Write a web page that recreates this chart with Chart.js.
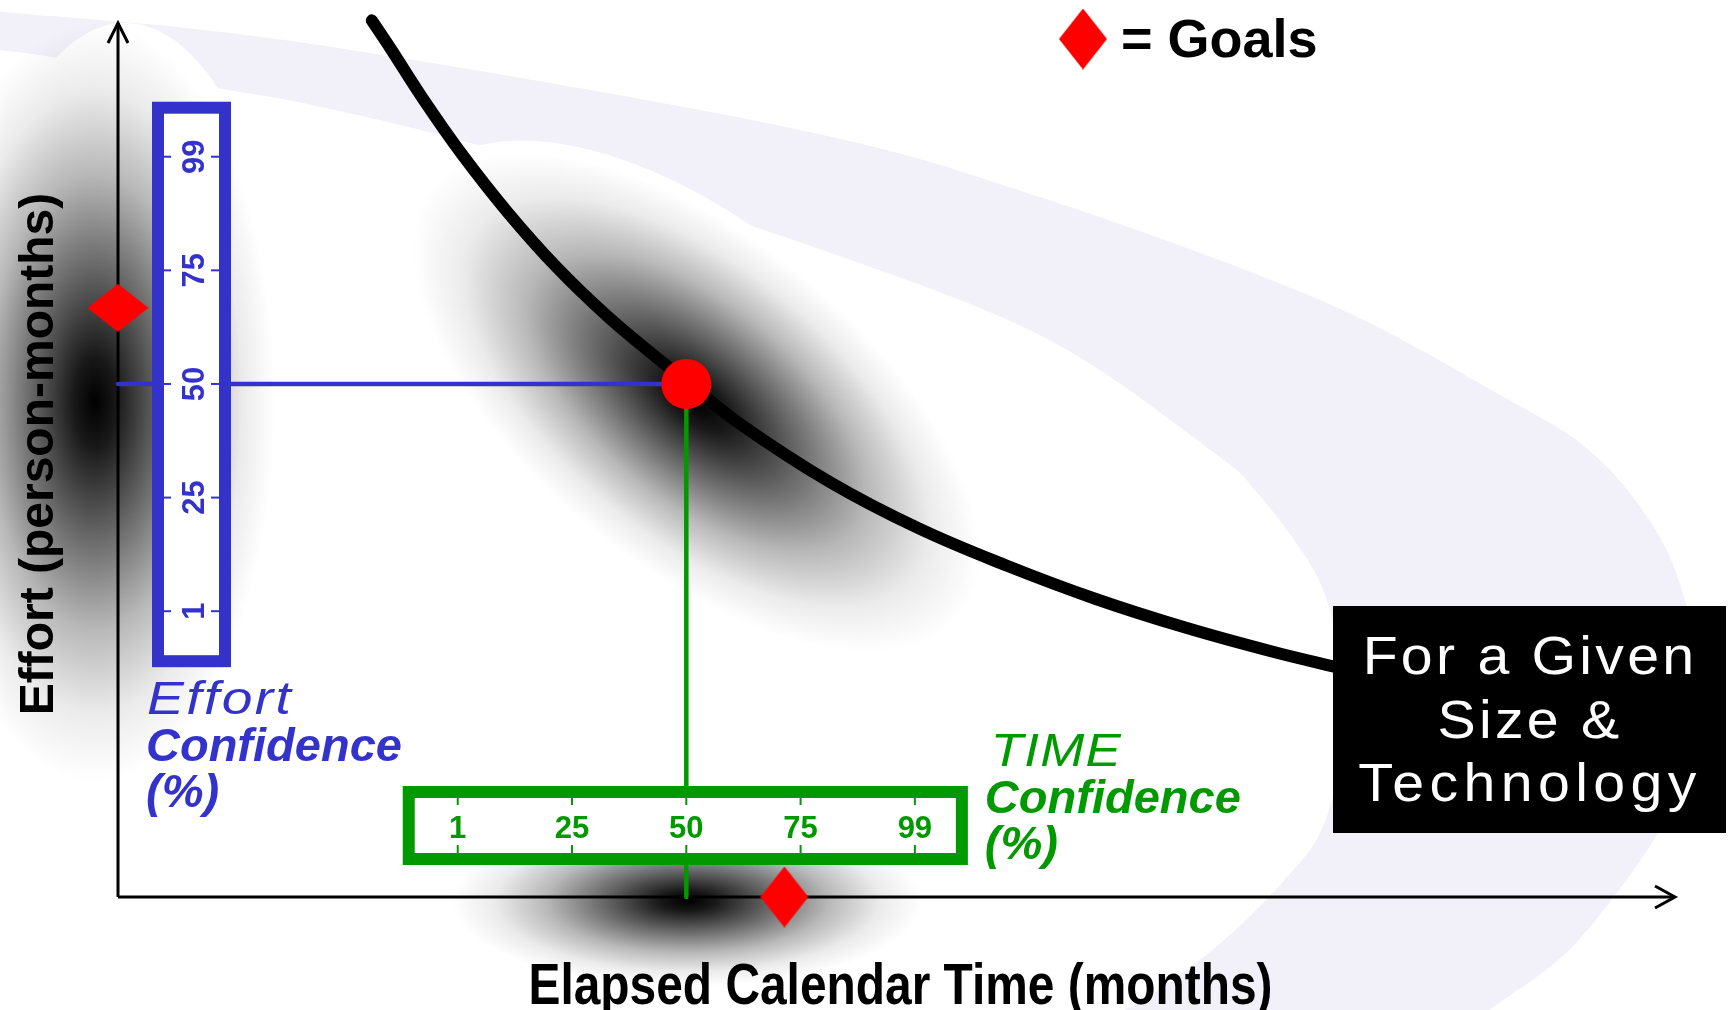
<!DOCTYPE html>
<html>
<head>
<meta charset="utf-8">
<title>Effort vs Elapsed Calendar Time</title>
<script src="https://cdn.jsdelivr.net/npm/chart.js@4.4.1/dist/chart.umd.min.js"></script>
<style>
  html, body { margin: 0; padding: 0; background: #fff; overflow: hidden; }
  #wrap { width: 1735px; height: 1010px; position: relative; }
</style>
</head>
<body>
<div id="wrap"><canvas id="tradeoff"></canvas></div>
<script>
// trade-off curve (axis units 0..100)
const curveTime   = [16.3, 17.5, 19.6, 22.0, 25.0, 28.2, 31.4, 34.6, 36.5, 39.9, 45.7, 51.4, 57.1, 62.8, 68.6, 74.3, 78.5];
const curveEffort = [100.3, 97.1, 91.3, 85.2, 78.4, 72.0, 66.5, 61.7, 59.0, 54.2, 47.5, 42.2, 37.9, 34.1, 30.8, 28.0, 26.2];

// the 50% estimate (red dot)
const estimateTime = [36.5];
const estimateEffort = [58.7];

// goals (red diamonds), one on each axis
const goalTime   = [0, 42.8];
const goalEffort = [67.4, 0];

// confidence scales
const effortConfLabels = ['1', '25', '50', '75', '99'];
const timeConfLabels   = ['1', '25', '50', '75', '99'];

const timeRange = [0, 100];
const effortRange = [0, 100];

const FONT = '"Liberation Sans", Arial, Helvetica, sans-serif';
const BLUE = '#3333CC';
const GREEN = '#009900';
const RED = '#FF0000';
const LAVENDER = '#F2F0F8';

// spacing of the confidence ticks, in axis units
const EFFORT_STEP = 13.0;
const TIME_STEP = 7.34;

// background swoosh, in axis units (outer edge, then inner edge back)
const swoosh = [
  [-9.5, 101.5], [-7.6, 101.3], [11.7, 97.8], [43.2, 88.0], [59.2, 80.1], [77.2, 68.3],
  [88.8, 57.4], [94.5, 51.1], [98.4, 43.0], [100.5, 34.8], [101.6, 23.7], [101.1, 14.5],
  [98.8, 7.0], [96.1, 0.1], [92.7, -6.9], [88.1, -12.9], [83.6, -18.7],
  [60.5, -18.7], [66.3, -11.3], [70.8, -5.3], [75.0, 2.1], [77.3, 7.7], [78.5, 15.7],
  [78.6, 23.7], [78.0, 31.7], [76.6, 38.0], [73.2, 46.2], [70.2, 51.1], [59.2, 64.3],
  [43.8, 74.9], [31.0, 82.0], [20.2, 87.4], [11.7, 90.9], [5.9, 92.7], [-3.9, 96.0],
  [-7.6, 96.9], [-9.5, 97.0]
];

function diamond(w, h, color) {
  const c = document.createElement('canvas');
  c.width = w; c.height = h;
  const g = c.getContext('2d');
  g.fillStyle = color;
  g.beginPath();
  g.moveTo(w / 2, 0); g.lineTo(w, h / 2); g.lineTo(w / 2, h); g.lineTo(0, h / 2);
  g.closePath();
  g.fill();
  return c;
}
const goalMark = diamond(48, 61, RED);

function smoothClosed(ctx, pts) {
  const n = pts.length;
  ctx.beginPath();
  ctx.moveTo(pts[0][0], pts[0][1]);
  for (let i = 0; i < n; i++) {
    const p0 = pts[(i - 1 + n) % n], p1 = pts[i], p2 = pts[(i + 1) % n], p3 = pts[(i + 2) % n];
    ctx.bezierCurveTo(
      p1[0] + (p2[0] - p0[0]) / 6, p1[1] + (p2[1] - p0[1]) / 6,
      p2[0] - (p3[0] - p1[0]) / 6, p2[1] - (p3[1] - p1[1]) / 6,
      p2[0], p2[1]);
  }
  ctx.closePath();
}

function ellipse(ctx, cx, cy, rx, ry, rotDeg, fill) {
  ctx.save();
  ctx.translate(cx, cy);
  ctx.rotate(rotDeg * Math.PI / 180);
  ctx.scale(1, ry / rx);
  if (fill === 'white') {
    ctx.fillStyle = '#fff';
  } else {
    const g = ctx.createRadialGradient(0, 0, 0, 0, 0, rx);
    g.addColorStop(0, 'rgba(0,0,0,1)');
    g.addColorStop(0.12, 'rgba(0,0,0,0.9)');
    g.addColorStop(0.35, 'rgba(0,0,0,0.6)');
    g.addColorStop(0.6, 'rgba(0,0,0,0.28)');
    g.addColorStop(0.82, 'rgba(0,0,0,0.08)');
    g.addColorStop(1, 'rgba(0,0,0,0)');
    ctx.fillStyle = g;
  }
  ctx.beginPath();
  ctx.arc(0, 0, rx, 0, Math.PI * 2);
  ctx.fill();
  ctx.restore();
}

function label(ctx, str, x, y, opt) {
  ctx.save();
  ctx.translate(x, y);
  if (opt.rotate) ctx.rotate(opt.rotate);
  if (opt.scaleX) ctx.scale(opt.scaleX, 1);
  ctx.font = opt.font;
  ctx.fillStyle = opt.color || '#000';
  ctx.textAlign = opt.align || 'left';
  ctx.textBaseline = 'alphabetic';
  if ('letterSpacing' in ctx) ctx.letterSpacing = (opt.spacing || 0) + 'px';
  ctx.fillText(str, 0, 0);
  if ('letterSpacing' in ctx) ctx.letterSpacing = '0px';
  ctx.restore();
}

function line(ctx, x1, y1, x2, y2, color, w) {
  ctx.beginPath();
  ctx.moveTo(x1, y1);
  ctx.lineTo(x2, y2);
  ctx.strokeStyle = color;
  ctx.lineWidth = w;
  ctx.stroke();
}

const sketch = {
  id: 'sketch',
  beforeDatasetsDraw(chart) {
    const { ctx, chartArea: a, scales: { x, y } } = chart;
    const ex = x.getPixelForValue(estimateTime[0]);
    const ey = y.getPixelForValue(estimateEffort[0]);

    // lavender swoosh behind everything
    ctx.save();
    smoothClosed(ctx, swoosh.map(p => [x.getPixelForValue(p[0]), y.getPixelForValue(p[1])]));
    ctx.fillStyle = LAVENDER;
    ctx.fill();

    // uncertainty "clouds" round the estimate
    ellipse(ctx, a.left + 7, ey + 16, 165, 377, 0, 'white');
    ellipse(ctx, ex + 4, ey + 8, 340, 170, 39, 'white');
    ellipse(ctx, a.left - 23, ey + 18, 180, 380, 0);
    ellipse(ctx, ex + 10, ey + 18, 340, 165, 39);
    ellipse(ctx, ex + 1, a.bottom + 4, 235, 86, 0);

    // axes with open arrow heads
    ctx.lineCap = 'butt';
    ctx.lineJoin = 'miter';
    line(ctx, a.left, a.bottom, a.left, a.top, '#000', 3);
    line(ctx, a.left, a.bottom, a.right, a.bottom, '#000', 3);
    ctx.beginPath();
    ctx.moveTo(a.left - 10, a.top + 20); ctx.lineTo(a.left, a.top); ctx.lineTo(a.left + 10, a.top + 20);
    ctx.moveTo(a.right - 20, a.bottom - 11); ctx.lineTo(a.right, a.bottom); ctx.lineTo(a.right - 20, a.bottom + 11);
    ctx.stroke();

    // axis titles
    label(ctx, 'Effort (person-months)', 53, 454,
      { font: 'bold 48px ' + FONT, align: 'center', rotate: -Math.PI / 2 });
    label(ctx, 'Elapsed Calendar Time (months)', (a.left + a.right) / 2 + 4, 1004,
      { font: 'bold 57px ' + FONT, align: 'center', scaleX: 0.84 });
    ctx.restore();
  },

  afterDatasetsDraw(chart) {
    const { ctx, chartArea: a, scales: { x, y } } = chart;
    ctx.save();

    // effort confidence box
    const effY = effortConfLabels.map((_, i) => y.getPixelForValue(estimateEffort[0] + (i - 2) * EFFORT_STEP));
    const bl = a.left + 34, br = a.left + 113;
    const bt = effY[4] - 55, bb = effY[0] + 56;
    ctx.fillStyle = '#fff';
    ctx.fillRect(bl, bt, br - bl, bb - bt);
    ctx.strokeStyle = BLUE;
    ctx.lineWidth = 12;
    ctx.strokeRect(bl + 6, bt + 6, br - bl - 12, bb - bt - 12);
    effortConfLabels.forEach((t, i) => {
      line(ctx, bl + 11, effY[i], bl + 19, effY[i], BLUE, 2);
      line(ctx, br - 20, effY[i], br - 12, effY[i], BLUE, 2);
      label(ctx, t, a.left + 86, effY[i], { font: 'bold 31px ' + FONT, color: BLUE, align: 'center', rotate: -Math.PI / 2 });
    });
    label(ctx, 'Effort', bl - 5, bb + 47, { font: 'italic 46px ' + FONT, color: BLUE, scaleX: 1.2, spacing: 2 });
    label(ctx, 'Confidence', bl - 6, bb + 94, { font: 'italic bold 47px ' + FONT, color: BLUE });
    label(ctx, '(%)', bl - 6, bb + 140, { font: 'italic bold 47px ' + FONT, color: BLUE });

    // time confidence box
    const timX = timeConfLabels.map((_, i) => x.getPixelForValue(estimateTime[0] + (i - 2) * TIME_STEP));
    const gl = timX[0] - 55, gr = timX[4] + 53;
    const gt = a.bottom - 111, gb = a.bottom - 32;
    ctx.fillStyle = '#fff';
    ctx.fillRect(gl, gt, gr - gl, gb - gt);
    ctx.strokeStyle = GREEN;
    ctx.lineWidth = 12;
    ctx.strokeRect(gl + 6, gt + 6, gr - gl - 12, gb - gt - 12);
    timeConfLabels.forEach((t, i) => {
      line(ctx, timX[i], gt + 11, timX[i], gt + 19, GREEN, 2);
      line(ctx, timX[i], gb - 20, timX[i], gb - 12, GREEN, 2);
      label(ctx, t, timX[i], a.bottom - 59, { font: 'bold 31px ' + FONT, color: GREEN, align: 'center' });
    });
    label(ctx, 'TIME', gr + 23, gt - 20, { font: 'italic 46px ' + FONT, color: GREEN, scaleX: 1.15, spacing: 1 });
    label(ctx, 'Confidence', gr + 17, gt + 27, { font: 'italic bold 47px ' + FONT, color: GREEN });
    label(ctx, '(%)', gr + 17, gt + 73, { font: 'italic bold 47px ' + FONT, color: GREEN });

    // "For a Given Size & Technology" tag over the end of the curve
    ctx.fillStyle = '#000';
    ctx.fillRect(1333, 606, 393, 227);
    const tagSpacing = [3, 3, 5];
    ['For a Given', 'Size &', 'Technology'].forEach((t, i) => {
      label(ctx, t, 1530, 674 + i * 63.5, { font: '53px ' + FONT, color: '#fff', align: 'center', scaleX: 1.08, spacing: tagSpacing[i] });
    });

    // legend
    ctx.drawImage(goalMark, 1083 - 24, 39 - 30.5);
    label(ctx, '= Goals', 1121, 57, { font: 'bold 54px ' + FONT });
    ctx.restore();
  }
};

const ctx = document.getElementById('tradeoff');
new Chart(ctx, {
  type: 'line',
  data: {
    datasets: [
      {
        label: 'Goals',
        data: goalTime.map((t, i) => ({ x: t, y: goalEffort[i] })),
        showLine: false,
        pointStyle: goalMark,
        pointRotation: [90, 0],
        pointRadius: 30,
        clip: false
      },
      {
        label: '50% estimate',
        data: estimateTime.map((t, i) => ({ x: t, y: estimateEffort[i] })),
        showLine: false,
        pointRadius: 25,
        pointBackgroundColor: RED,
        pointBorderWidth: 0,
        borderColor: RED,
        clip: false
      },
      {
        label: 'Effort / time trade-off',
        data: curveTime.map((t, i) => ({ x: t, y: curveEffort[i] })),
        borderColor: '#000',
        borderWidth: 12,
        borderCapStyle: 'round',
        tension: 0.4,
        pointRadius: 0,
        clip: false
      },
      {
        label: 'Effort at 50%',
        data: [{ x: timeRange[0], y: estimateEffort[0] }, { x: estimateTime[0], y: estimateEffort[0] }],
        borderColor: BLUE,
        borderWidth: 4.5,
        borderCapStyle: 'round',
        pointRadius: 0,
        clip: false
      },
      {
        label: 'Time at 50%',
        data: [{ x: estimateTime[0], y: estimateEffort[0] }, { x: estimateTime[0], y: effortRange[0] }],
        borderColor: GREEN,
        borderWidth: 4.5,
        borderCapStyle: 'round',
        pointRadius: 0,
        clip: false
      }
    ]
  },
  options: {
    responsive: true,
    maintainAspectRatio: false,
    animation: false,
    layout: { autoPadding: false, padding: { left: 118, right: 60, top: 23, bottom: 113 } },
    scales: {
      x: { type: 'linear', min: timeRange[0], max: timeRange[1], display: false },
      y: { type: 'linear', min: effortRange[0], max: effortRange[1], display: false }
    },
    plugins: {
      legend: { display: false },
      tooltip: { enabled: false }
    }
  },
  plugins: [sketch]
});
</script>
</body>
</html>
